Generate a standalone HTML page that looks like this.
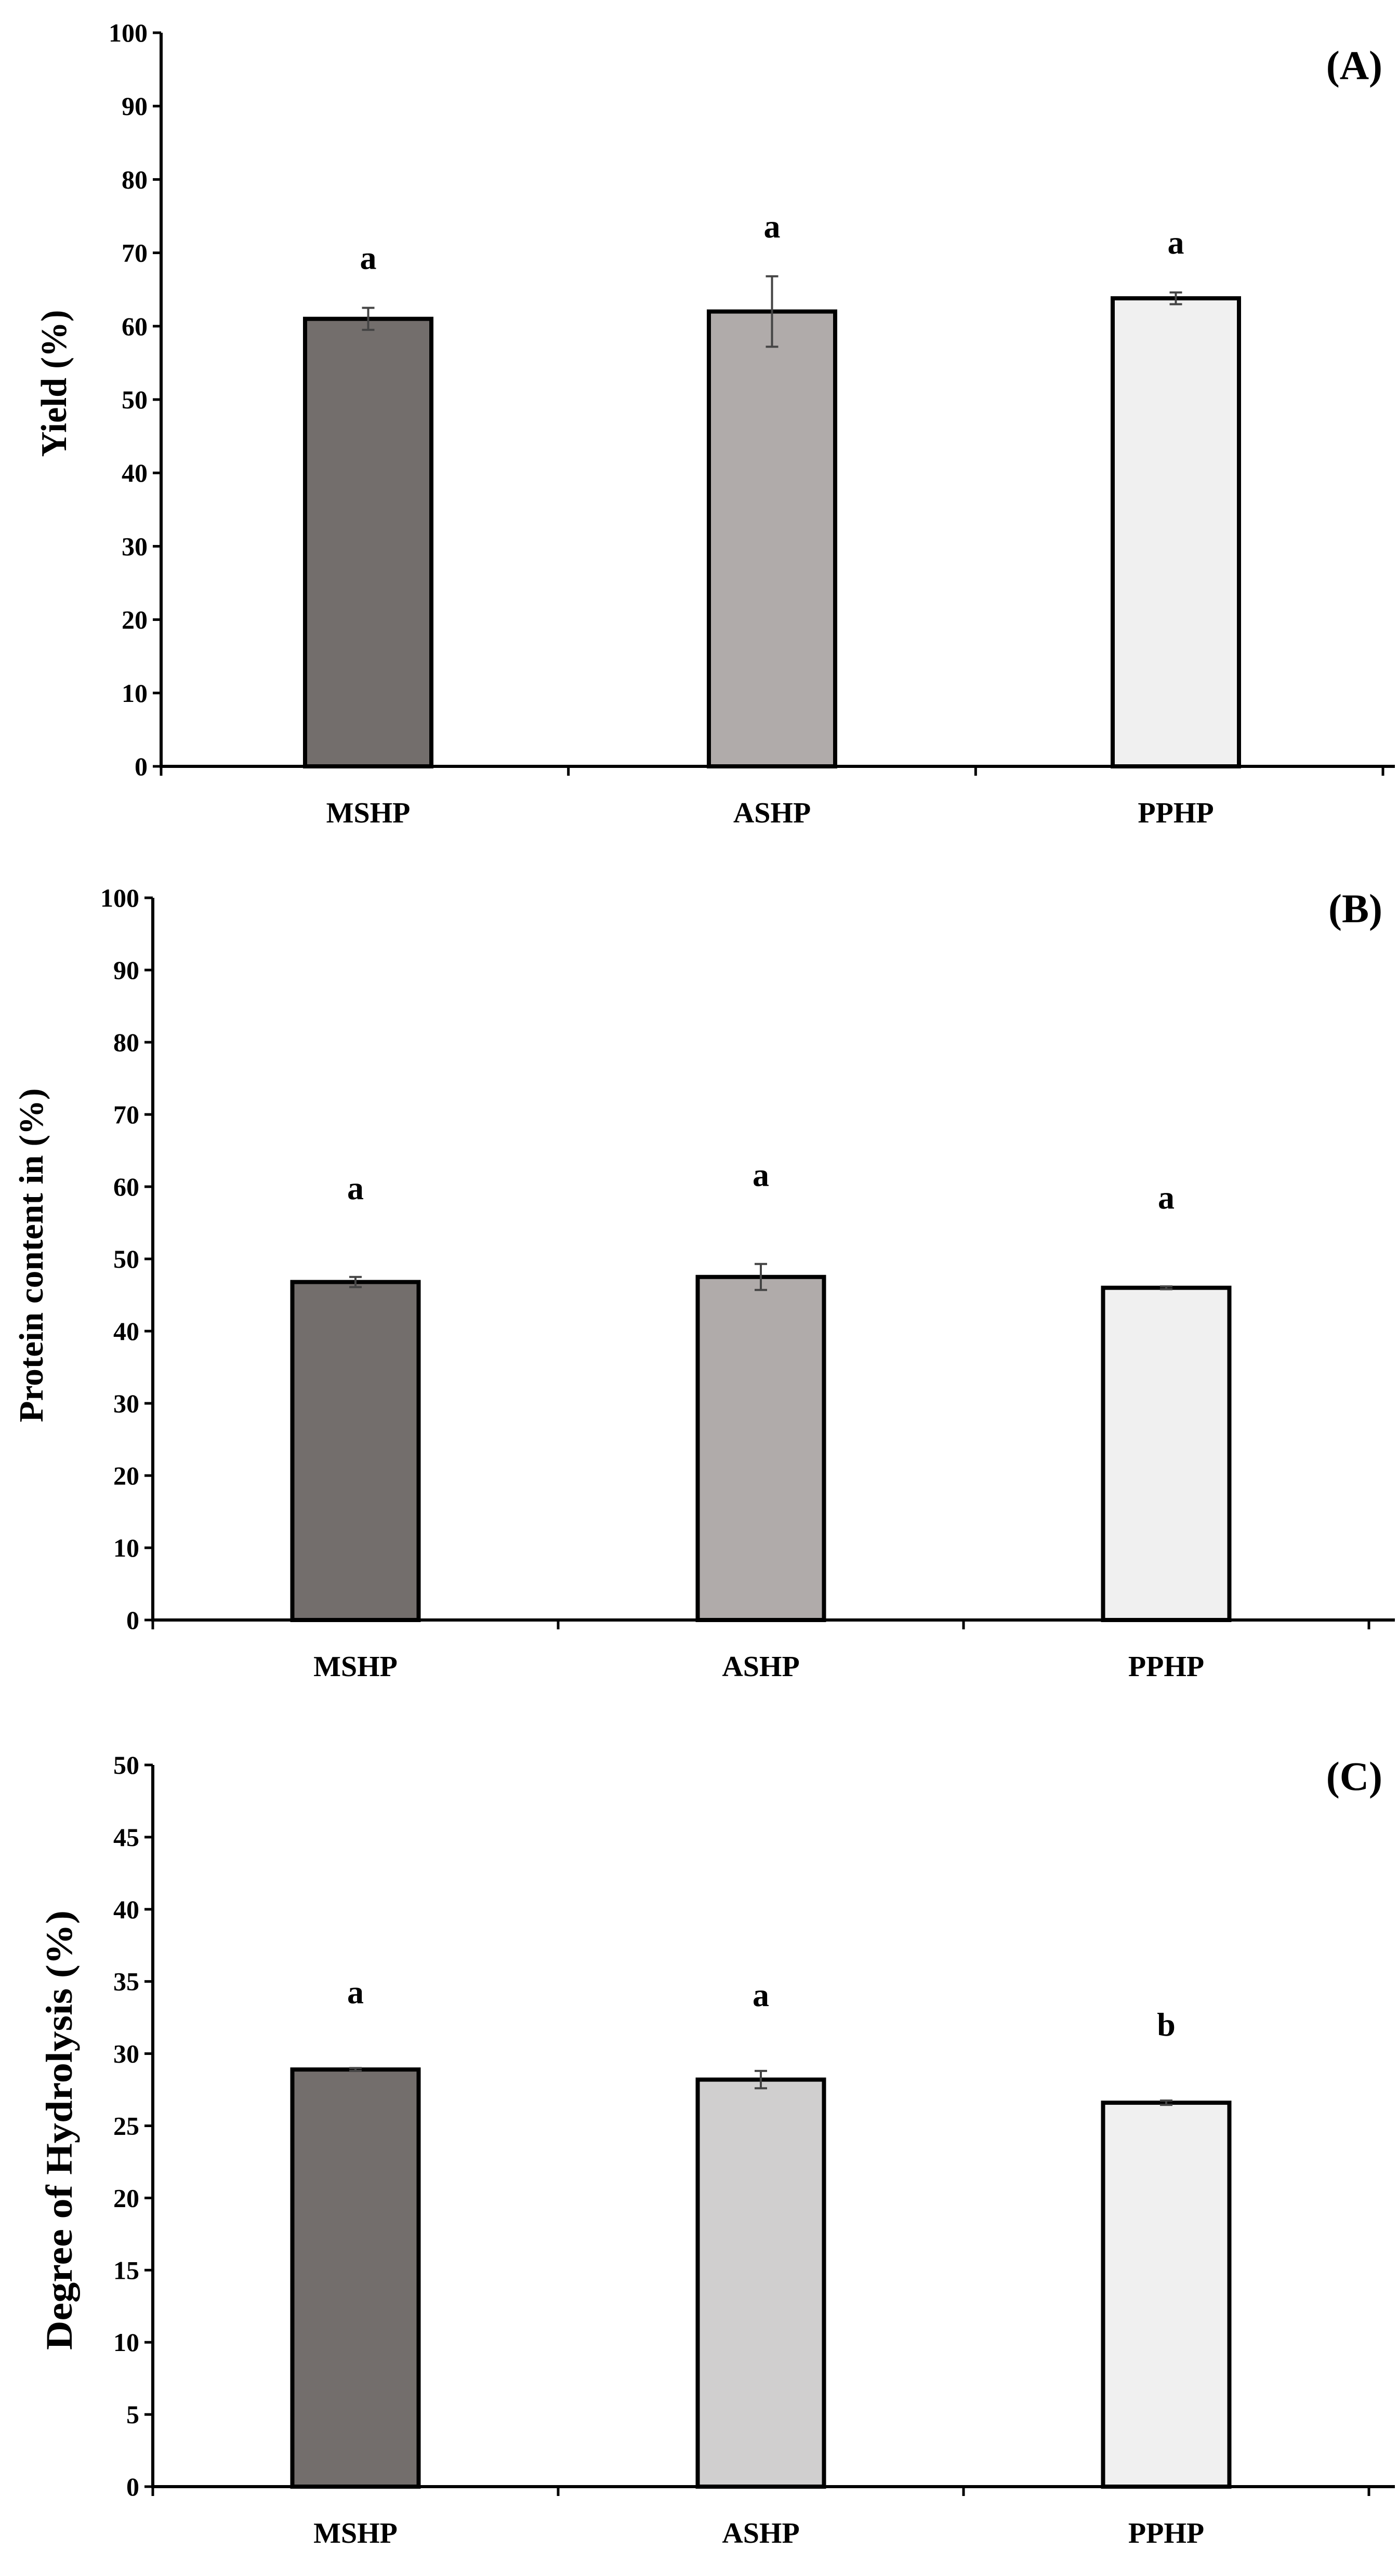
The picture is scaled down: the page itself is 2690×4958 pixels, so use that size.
<!DOCTYPE html>
<html><head><meta charset="utf-8"><style>
html,body{margin:0;padding:0;background:#fff;}
svg{display:block;}
text{font-family:"Liberation Serif",serif;font-weight:bold;fill:#000;}
</style></head>
<body>
<svg id="chart" width="2690" height="4958" viewBox="0 0 2690 4958" xmlns="http://www.w3.org/2000/svg"></svg>
<script>
const categories = ["MSHP","ASHP","PPHP"];
const yieldValues = [61.0, 62.0, 63.8];
const yieldErrors = [1.5, 4.8, 0.8];
const yieldLetters = ["a","a","a"];
const proteinValues = [46.8, 47.5, 46.0];
const proteinErrors = [0.7, 1.8, 0.2];
const proteinLetters = ["a","a","a"];
const dhValues = [28.9, 28.2, 26.6];
const dhErrors = [0.1, 0.6, 0.15];
const dhLetters = ["a","a","b"];
const ticksA = [0,10,20,30,40,50,60,70,80,90,100];
const ticksB = [0,10,20,30,40,50,60,70,80,90,100];
const ticksC = [0,5,10,15,20,25,30,35,40,45,50];

const NS = "http://www.w3.org/2000/svg";
const svg = document.getElementById("chart");
function mk(tag, attrs, parent){
  const e = document.createElementNS(NS, tag);
  for (const k in attrs) e.setAttribute(k, attrs[k]);
  (parent||svg).appendChild(e);
  return e;
}
function panel(cfg){
  const g = mk("g", {});
  
  
  const yMax = cfg.ticks[cfg.ticks.length-1];
  const y = v => cfg.y0 - (v / yMax) * (cfg.y0 - cfg.yTop);
  const xl = cfg.axisX, xr = 2684;
  const bw = cfg.bw;
  const xc = i => xl + cfg.off + bw * (i + 0.5);
  cfg.ticks.forEach(t => {
    const l = mk("line", {x1: xl-16, x2: xl, y1: y(t), y2: y(t), stroke:"#000","stroke-width":5}, g);
    
    
    const tx = mk("text", {x: xl-26, y: y(t)+17, "text-anchor":"end","font-size":50}, g);
    
    
    tx.textContent = t;
  });
  cfg.values.forEach((v,i) => {
    const w = 243;
    const r = mk("rect", {x: xc(i)-w/2, y: y(v), width: w, height: cfg.y0 - y(v), fill: cfg.colors[i], stroke:"#000","stroke-width":8}, g);
    
    
    const e = cfg.errors[i];
    const eg = mk("g", {stroke:"#444","stroke-width":4}, g);
    
    
    mk("line", {x1: xc(i), x2: xc(i), y1: y(v+e), y2: y(v-e)}, eg);
    mk("line", {x1: xc(i)-12, x2: xc(i)+12, y1: y(v+e), y2: y(v+e)}, eg);
    mk("line", {x1: xc(i)-12, x2: xc(i)+12, y1: y(v-e), y2: y(v-e)}, eg);
    const lt = mk("text", {x: xc(i), y: y(v + e) - cfg.letterGap, "text-anchor":"middle","font-size":64}, g);
    
    
    lt.textContent = cfg.letters[i];
    const cl = mk("text", {x: xc(i), y: cfg.y0 + 108, "text-anchor":"middle","font-size":56}, g);
    
    
    cl.textContent = categories[i];
  });
  const ya = mk("line", {x1: xl, x2: xl, y1: cfg.yTop, y2: cfg.y0+3, stroke:"#000","stroke-width":6}, g);
  
  
  const xa = mk("line", {x1: xl, x2: xr, y1: cfg.y0, y2: cfg.y0, stroke:"#000","stroke-width":6}, g);
  
  
  for (let i=0;i<=categories.length;i++){
    const tx = Math.min(xl + cfg.off*2*i/3 + bw*i, xr-2);
    const xt = mk("line", {x1: tx, x2: tx, y1: cfg.y0, y2: cfg.y0+18, stroke:"#000","stroke-width":5}, g);
    
    
  }
  const yt = mk("text", {x: 0, y: 0, "text-anchor":"middle","font-size":cfg.titleSize, textLength: cfg.titleLen, lengthAdjust:"spacingAndGlyphs", transform:`translate(${cfg.titleX},${cfg.titleY}) rotate(-90)`}, g);
  
  
  yt.textContent = cfg.title;
  const pl = mk("text", {x: 2660, y: cfg.labelY, "text-anchor":"end","font-size":78}, g);
  
  
  pl.textContent = cfg.label;
}
panel({name:"panel-a-yield", ticks:ticksA, values:yieldValues, errors:yieldErrors, letters:yieldLetters,
  colors:["#736e6c","#b0abaa","#f0f0f0"], axisX:310, bw:777, off:10, yTop:63, y0:1475, title:"Yield (%)", titleSize:70, titleLen:283, titleX:127, titleY:738,
  label:"(A)", labelY:152, letterGap:75});
panel({name:"panel-b-protein", ticks:ticksB, values:proteinValues, errors:proteinErrors, letters:proteinLetters,
  colors:["#736e6c","#b0abaa","#f0f0f0"], axisX:294, bw:780, off:0, yTop:1728, y0:3118, title:"Protein content in  (%)", titleSize:66, titleLen:643, titleX:82, titleY:2416,
  label:"(B)", labelY:1775, letterGap:150});
panel({name:"panel-c-degree-hydrolysis", ticks:ticksC, values:dhValues, errors:dhErrors, letters:dhLetters,
  colors:["#736e6c","#d0cfcf","#f0f0f0"], axisX:294, bw:780, off:0, yTop:3397, y0:4786, title:"Degree of Hydrolysis (%)", titleSize:72, titleLen:846, titleX:138, titleY:4100,
  label:"(C)", labelY:3445, letterGap:125});
</script>
</body></html>
